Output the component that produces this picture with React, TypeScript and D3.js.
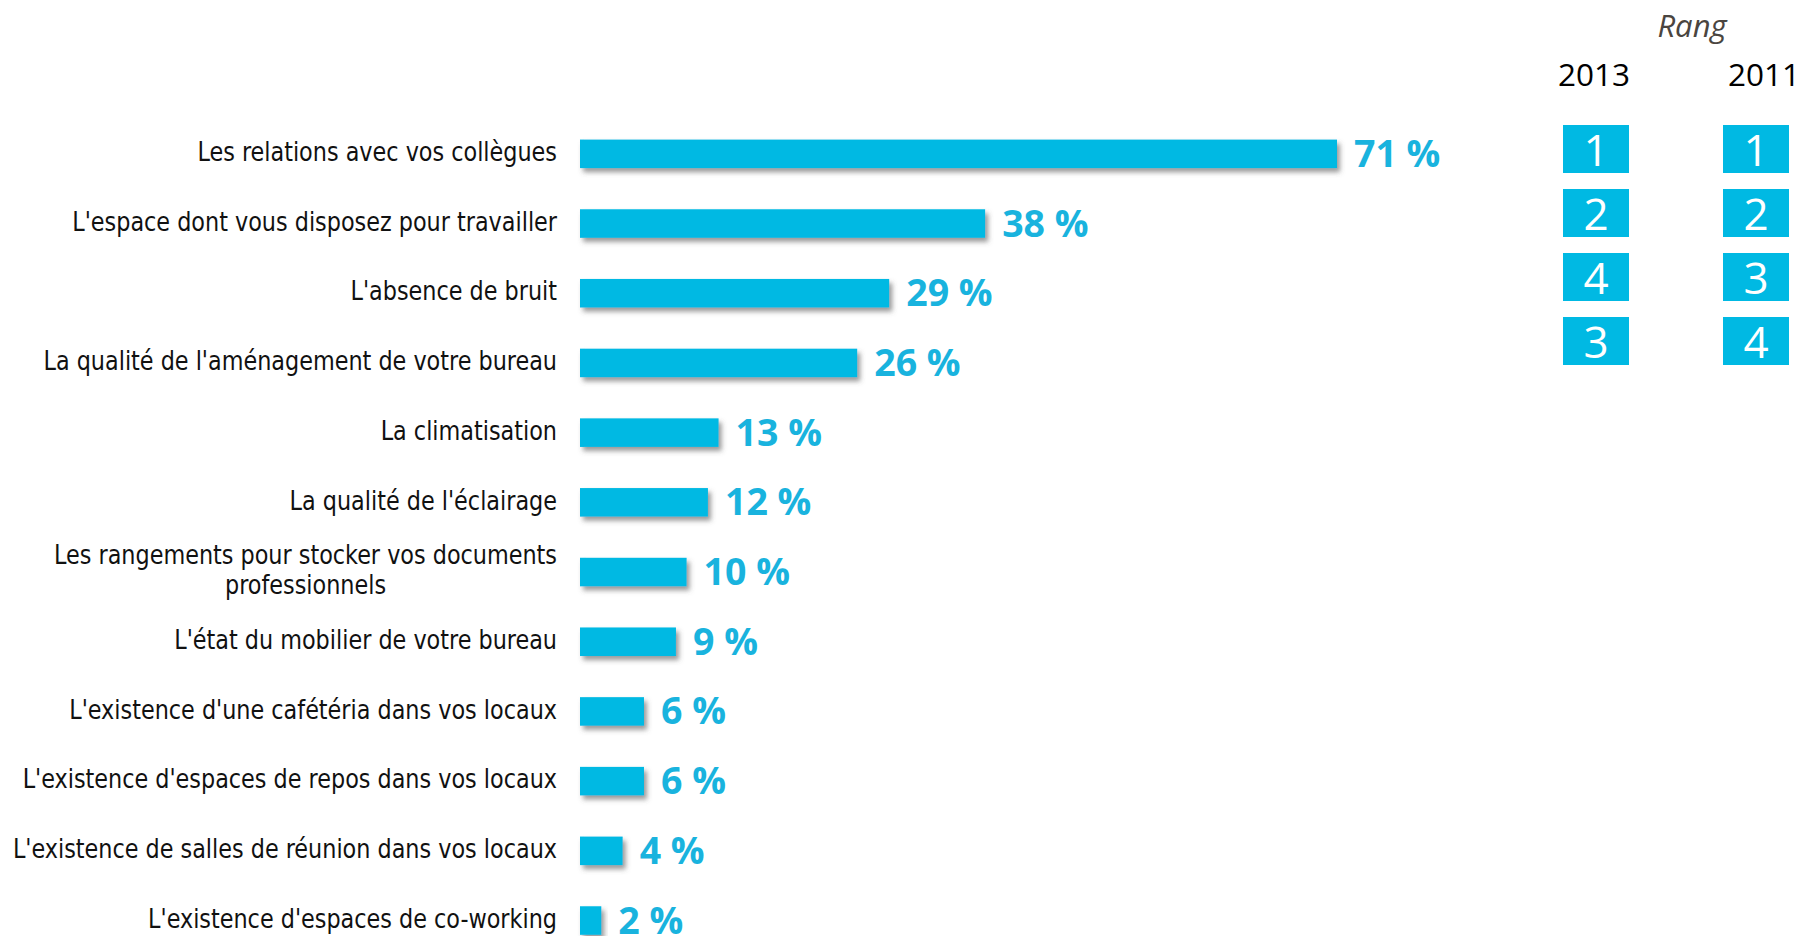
import React, { useEffect, useRef } from "react";
import * as d3 from "d3";

const categories: string[][] = [
  ["Les relations avec vos collègues"],
  ["L'espace dont vous disposez pour travailler"],
  ["L'absence de bruit"],
  ["La qualité de l'aménagement de votre bureau"],
  ["La climatisation"],
  ["La qualité de l'éclairage"],
  ["Les rangements pour stocker vos documents", "professionnels"],
  ["L'état du mobilier de votre bureau"],
  ["L'existence d'une cafétéria dans vos locaux"],
  ["L'existence d'espaces de repos dans vos locaux"],
  ["L'existence de salles de réunion dans vos locaux"],
  ["L'existence d'espaces de co-working"],
];
const values: number[] = [71, 38, 29, 26, 13, 12, 10, 9, 6, 6, 4, 2];
const rankYears: string[] = ["2013", "2011"];
const rank2013: number[] = [1, 2, 4, 3];
const rank2011: number[] = [1, 2, 3, 4];
const rankTitle = "Rang";

const W = 1802;
const H = 936;
const BAR = "#00b9e3";
const VAL = "#19b3de";
const LABEL_FONT = "'Liberation Sans Narrow', 'DejaVu Sans Condensed', 'Noto Sans', sans-serif";
const VALUE_FONT = "'Open Sans', 'Noto Sans', sans-serif";

export default function App() {
  const ref = useRef<SVGSVGElement>(null);

  useEffect(() => {
    const svg = d3.select(ref.current);
    svg.selectAll("*").remove();

    const defs = svg.append("defs");
    const f = defs
      .append("filter")
      .attr("id", "shadow")
      .attr("x", "-20%")
      .attr("y", "-40%")
      .attr("width", "150%")
      .attr("height", "200%");
    f.append("feDropShadow")
      .attr("dx", 3)
      .attr("dy", 4)
      .attr("stdDeviation", 2.5)
      .attr("flood-color", "#555")
      .attr("flood-opacity", 0.6);

    const x = d3.scaleLinear().domain([0, 71]).range([580, 1337]);
    const y = d3
      .scaleBand<number>()
      .domain(d3.range(values.length))
      .range([119, 119 + 69.7 * values.length])
      .paddingInner(0.59)
      .paddingOuter(0.295);

    const g = svg.append("g");
    const rows = g
      .selectAll("g.row")
      .data(values)
      .join("g")
      .attr("class", "row");

    rows
      .append("rect")
      .attr("x", x(0))
      .attr("y", (_, i) => y(i)!)
      .attr("width", (d) => x(d) - x(0))
      .attr("height", y.bandwidth())
      .attr("fill", BAR)
      .attr("filter", "url(#shadow)");

    rows
      .append("text")
      .attr("x", (d) => x(d) + 17)
      .attr("y", (_, i) => y(i)! + y.bandwidth() / 2 - 1.5)
      .attr("dominant-baseline", "central")
      .attr("font-family", VALUE_FONT)
      .attr("font-weight", 700)
      .attr("font-size", 37.5)
      .attr("fill", VAL)
      .text((d) => `${d} %`);

    const labelRight = 557;
    const lg = g.append("g").attr("transform", `translate(${labelRight},0) scale(0.955,1)`);
    const addText = (sel: any, tx: number, ty: number, anchor: string, s: string) =>
      sel
        .append("text")
        .attr("x", tx)
        .attr("y", ty)
        .attr("text-anchor", anchor)
        .attr("dominant-baseline", "central")
        .attr("font-family", LABEL_FONT)
        .attr("font-size", 26)
        .attr("fill", "#111")
        .text(s);
    categories.forEach((lines, i) => {
      const cy = y(i)! + y.bandwidth() / 2 - 2;
      if (lines.length === 1) {
        addText(lg, 0, cy, "end", lines[0]);
      } else {
        const t1 = addText(lg, 0, cy - 15, "end", lines[0]);
        const w = (t1.node() as SVGTextElement).getComputedTextLength();
        addText(lg, -w / 2, cy + 15, "middle", lines[1]);
      }
    });

    // Rank panel
    const colX = d3.scaleOrdinal<string, number>().domain(rankYears).range([1596, 1756]);
    const headX = d3.scaleOrdinal<string, number>().domain(rankYears).range([1594, 1764]);
    const rankY = d3.scaleLinear().domain([0, 1]).range([125, 189]);
    const rk = svg.append("g");
    rk.append("text")
      .attr("x", 1692)
      .attr("y", 37)
      .attr("text-anchor", "middle")
      .attr("font-family", "'Open Sans', sans-serif")
      .attr("font-style", "italic")
      .attr("font-size", 31)
      .attr("fill", "#4a4540")
      .text(rankTitle);
    rankYears.forEach((yr) => {
      rk.append("text")
        .attr("x", headX(yr))
        .attr("y", 86)
        .attr("text-anchor", "middle")
        .attr("font-family", "'Open Sans', sans-serif")
        .attr("font-size", 31.5)
        .attr("fill", "#000")
        .text(yr);
    });
    [rank2013, rank2011].forEach((ranks, ci) => {
      const cx = colX(rankYears[ci]);
      ranks.forEach((r, i) => {
        rk.append("rect")
          .attr("x", cx - 33)
          .attr("y", rankY(i))
          .attr("width", 66)
          .attr("height", 48)
          .attr("fill", BAR);
        rk.append("text")
          .attr("x", cx)
          .attr("y", rankY(i) + 24)
          .attr("text-anchor", "middle")
          .attr("dominant-baseline", "central")
          .attr("font-family", "'Open Sans', sans-serif")
          .attr("font-size", 44)
          .attr("fill", "#fff")
          .text(String(r));
      });
    });
  }, []);

  return (
    <svg
      ref={ref}
      width={W}
      height={H}
      viewBox={`0 0 ${W} ${H}`}
      style={{ display: "block", position: "absolute", left: 0, top: 0, background: "#fff" }}
    />
  );
}
